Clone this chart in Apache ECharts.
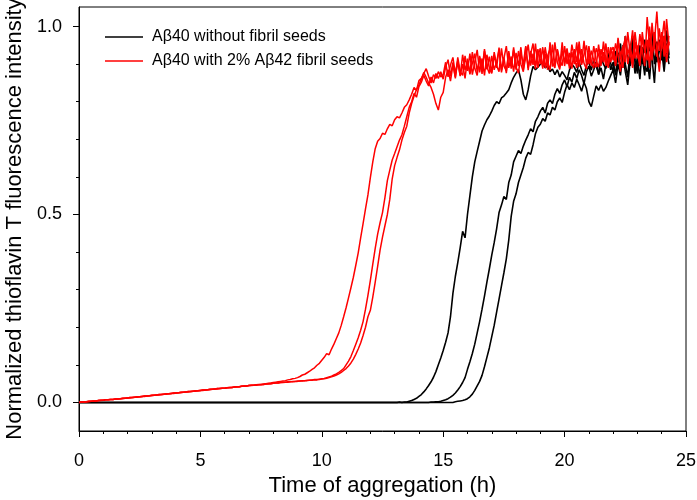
<!DOCTYPE html>
<html><head><meta charset="utf-8">
<script src="https://cdn.jsdelivr.net/npm/echarts@6/dist/echarts.min.js"></script>
<style>html,body{margin:0;padding:0;background:#fff}#c{width:697px;height:500px}</style>
</head><body><div id="c"></div>
<script>
// Sampling: every 0.1 h from 0 h
const timeStart = 0;
const timeStep = 0.1;

const legendNames = ['Aβ40 without fibril seeds', 'Aβ40 with 2% Aβ42 fibril seeds'];
const yTickLabels = [0, 0.5, 1.0];
const yMinorTicks = [0.1, 0.2, 0.3, 0.4, 0.6, 0.7, 0.8, 0.9];

// Aβ40 without seeds (black), three replicates
const unseeded1 = [
0,0,0,0,0,0,0,0,0,0, 0,0,0,0,0,0,0,0,0,0, 0,0,0,0,0,0,0,0,0,0, 0,0,0,0,0,0,0,0,0,0,
0,0,0,0,0,0,0,0,0,0, 0,0,0,0,0,0,0,0,0,0, 0,0,0,0,0,0,0,0,0,0, 0,0,0,0,0,0,0,0,0,0,
0,0,0,0,0,0,0,0,0,0, 0,0,0,0,0,0,0,0,0,0, 0,0,0,0,0,0,0,0,0,0, 0,0,0,0,0,0,0,0,0,0,
0,0,0,0,0,0,0,0,0,0,
0.000,0.000,0.001,0.000,0.001,0.001,0.003,0.005,0.008,0.011,
0.016,0.021,0.028,0.036,0.045,0.055,0.067,0.082,0.100,0.118,
0.138,0.160,0.185,0.228,0.290,0.335,0.372,0.412,0.455,0.438,
0.500,0.550,0.600,0.640,0.668,0.695,0.722,0.738,0.752,0.762,
0.775,0.790,0.800,0.795,0.810,0.815,0.823,0.832,0.850,0.865,
0.876,0.885,0.858,0.820,0.805,0.832,0.868,0.894,0.885,0.892,
0.900,0.903,0.890,0.896,0.880,0.887,0.872,0.885,0.866,0.880,
0.870,0.858,0.884,0.900,0.892,0.878,0.906,0.885,0.870,0.898,
0.905,0.884,0.912,0.895,0.875,0.920,0.900,0.888,0.930,0.902,
0.880,0.935,0.905,0.955,0.890,0.975,0.920,0.895,0.960,0.910,
0.875,0.940,0.900,0.965,0.915,0.860,0.950,0.985,0.905,0.935,
0.960,0.895,0.990,0.925
];
const unseeded2 = [
0,0,0,0,0,0,0,0,0,0, 0,0,0,0,0,0,0,0,0,0, 0,0,0,0,0,0,0,0,0,0, 0,0,0,0,0,0,0,0,0,0,
0,0,0,0,0,0,0,0,0,0, 0,0,0,0,0,0,0,0,0,0, 0,0,0,0,0,0,0,0,0,0, 0,0,0,0,0,0,0,0,0,0,
0,0,0,0,0,0,0,0,0,0, 0,0,0,0,0,0,0,0,0,0, 0,0,0,0,0,0,0,0,0,0, 0,0,0,0,0,0,0,0,0,0,
0,0,0,0,0,0,0,0,0,0, 0,0,0,0,0,0,0,0,0,0,
0.000,0.000,0.000,0.000,0.000,0.001,0.001,0.002,0.002,0.003,
0.005,0.007,0.010,0.014,0.019,0.025,0.033,0.042,0.053,0.066,
0.088,0.108,0.130,0.155,0.185,0.215,0.248,0.283,0.320,0.355,
0.392,0.425,0.462,0.505,0.525,0.548,0.540,0.585,0.605,0.640,
0.655,0.670,0.662,0.682,0.698,0.712,0.728,0.720,0.748,0.760,
0.775,0.785,0.770,0.796,0.805,0.795,0.820,0.835,0.822,0.845,
0.858,0.840,0.865,0.852,0.878,0.862,0.885,0.870,0.848,0.880,
0.895,0.868,0.885,0.905,0.872,0.890,0.860,0.900,0.915,0.885,
0.905,0.870,0.930,0.885,0.950,0.900,0.865,0.940,0.975,0.910,
0.885,0.950,0.920,0.870,0.960,0.935,0.990,0.900,0.945,0.965,
0.910,0.975,0.935,0.900
];
const unseeded3 = [
0,0,0,0,0,0,0,0,0,0, 0,0,0,0,0,0,0,0,0,0, 0,0,0,0,0,0,0,0,0,0, 0,0,0,0,0,0,0,0,0,0,
0,0,0,0,0,0,0,0,0,0, 0,0,0,0,0,0,0,0,0,0, 0,0,0,0,0,0,0,0,0,0, 0,0,0,0,0,0,0,0,0,0,
0,0,0,0,0,0,0,0,0,0, 0,0,0,0,0,0,0,0,0,0, 0,0,0,0,0,0,0,0,0,0, 0,0,0,0,0,0,0,0,0,0,
0,0,0,0,0,0,0,0,0,0, 0,0,0,0,0,0,0,0,0,0, 0,0,0,0,0,0,0,0,0,0,
0.000,0.000,0.000,0.000,0.000,0.002,0.003,0.004,0.005,0.007,
0.010,0.015,0.022,0.032,0.044,0.056,0.072,0.095,0.120,0.145,
0.175,0.205,0.240,0.275,0.310,0.345,0.382,0.432,0.495,0.535,
0.555,0.585,0.605,0.625,0.650,0.665,0.660,0.685,0.715,0.732,
0.740,0.755,0.748,0.770,0.765,0.785,0.778,0.800,0.810,0.798,
0.825,0.845,0.832,0.850,0.838,0.860,0.845,0.828,0.852,0.835,
0.800,0.787,0.815,0.842,0.830,0.845,0.828,0.838,0.855,0.870,
0.885,0.850,0.900,0.870,0.925,0.880,0.845,0.910,0.940,0.875,
0.920,0.860,0.945,0.895,0.880,0.970,0.915,0.850,0.960,0.900,
0.935,0.880,0.955,0.915
];

// Aβ40 with 2% Aβ42 fibril seeds (red), three replicates
const seeded1 = [
0.000,0.001,0.001,0.002,0.003,0.003,0.004,0.004,0.005,0.006,
0.006,0.007,0.007,0.008,0.008,0.009,0.009,0.010,0.011,0.011,
0.012,0.013,0.013,0.014,0.015,0.015,0.016,0.017,0.017,0.018,
0.019,0.019,0.020,0.021,0.021,0.022,0.023,0.023,0.024,0.025,
0.025,0.026,0.027,0.027,0.028,0.029,0.029,0.030,0.031,0.031,
0.032,0.033,0.033,0.034,0.035,0.035,0.036,0.037,0.037,0.038,
0.038,0.039,0.040,0.040,0.041,0.042,0.042,0.043,0.044,0.044,
0.045,0.046,0.046,0.047,0.048,0.048,0.049,0.050,0.051,0.052,
0.053,0.054,0.055,0.056,0.057,0.058,0.060,0.061,0.063,0.064,
0.066,0.069,0.073,0.075,0.079,0.083,0.088,0.092,0.099,0.104,
0.112,0.120,0.130,0.127,0.142,0.155,0.170,0.185,0.205,0.228,
0.252,0.278,0.305,0.333,0.365,0.398,0.438,0.476,0.515,0.552,
0.598,0.640,0.675,0.695,0.702,0.716,0.713,0.728,0.740,0.736,
0.752,0.760,0.757,0.770,0.785,0.792,0.805,0.820,0.838,0.830,
0.856,0.862,0.875,0.888,0.868,0.850,0.872,0.862,0.880,0.866,
0.872,0.905,0.866,0.898,0.918,0.875,0.910,0.868,0.925,0.884,
0.908,0.876,0.932,0.889,0.870,0.922,0.884,0.940,0.893,0.875,
0.922,0.885,0.906,0.938,0.878,0.915,0.948,0.890,0.920,0.880,
0.930,0.895,0.945,0.884,0.918,0.952,0.896,0.928,0.887,0.940,
0.900,0.945,0.890,0.922,0.940,0.893,0.958,0.905,0.886,0.936,
0.905,0.942,0.895,0.952,0.918,0.890,0.945,0.904,0.962,0.898,
0.930,0.896,0.948,0.910,0.892,0.940,0.905,0.955,0.898,0.935,
0.945,0.900,0.960,0.918,0.890,0.975,0.925,0.952,0.905,0.985,
0.930,0.895,0.965,0.940,0.910,1.000,0.925,0.960,1.040,0.935,
0.985,0.920,1.020,0.950
];
const seeded2 = [
0.000,0.001,0.001,0.002,0.003,0.003,0.004,0.004,0.005,0.006,
0.006,0.007,0.007,0.008,0.008,0.009,0.009,0.010,0.011,0.011,
0.012,0.013,0.013,0.014,0.015,0.015,0.016,0.017,0.017,0.018,
0.019,0.019,0.020,0.021,0.021,0.022,0.023,0.023,0.024,0.025,
0.025,0.026,0.027,0.027,0.028,0.029,0.029,0.030,0.031,0.031,
0.032,0.033,0.033,0.034,0.035,0.035,0.036,0.037,0.037,0.038,
0.038,0.039,0.040,0.040,0.041,0.042,0.042,0.043,0.044,0.044,
0.045,0.046,0.046,0.047,0.047,0.048,0.048,0.049,0.050,0.050,
0.051,0.052,0.052,0.053,0.054,0.054,0.055,0.055,0.056,0.056,
0.057,0.057,0.058,0.058,0.059,0.059,0.060,0.061,0.061,0.062,
0.063,0.064,0.066,0.068,0.070,0.073,0.076,0.080,0.085,0.090,
0.100,0.110,0.122,0.138,0.155,0.172,0.192,0.215,0.248,0.285,
0.325,0.368,0.410,0.448,0.478,0.505,0.545,0.590,0.618,0.645,
0.662,0.680,0.698,0.712,0.735,0.760,0.785,0.800,0.822,0.812,
0.840,0.852,0.870,0.855,0.842,0.866,0.850,0.875,0.862,0.880,
0.860,0.892,0.912,0.868,0.905,0.862,0.918,0.880,0.870,0.922,
0.882,0.928,0.872,0.905,0.938,0.878,0.915,0.870,0.925,0.890,
0.875,0.932,0.896,0.880,0.942,0.895,0.882,0.935,0.888,0.945,
0.892,0.876,0.928,0.900,0.948,0.884,0.935,0.898,0.955,0.890,
0.932,0.888,0.945,0.905,0.884,0.952,0.898,0.938,0.892,0.958,
0.895,0.938,0.888,0.932,0.900,0.958,0.893,0.940,0.902,0.887,
0.948,0.905,0.890,0.942,0.925,0.895,0.960,0.910,0.890,0.945,
0.910,0.955,0.925,0.880,0.945,0.968,0.900,0.935,0.990,0.915,
0.950,0.905,0.985,0.930,0.965,0.890,1.010,0.945,0.920,0.995,
0.940,0.975,0.905,0.960
];
const seeded3 = [
0.000,0.001,0.001,0.002,0.002,0.003,0.004,0.004,0.005,0.005,
0.006,0.007,0.007,0.008,0.008,0.009,0.009,0.010,0.010,0.011,
0.012,0.012,0.013,0.014,0.014,0.015,0.016,0.016,0.017,0.018,
0.018,0.019,0.020,0.020,0.021,0.022,0.022,0.023,0.024,0.024,
0.025,0.026,0.026,0.027,0.028,0.028,0.029,0.030,0.030,0.031,
0.032,0.032,0.033,0.034,0.034,0.035,0.036,0.036,0.037,0.038,
0.038,0.039,0.039,0.040,0.041,0.041,0.042,0.043,0.043,0.044,
0.045,0.045,0.046,0.046,0.047,0.047,0.048,0.049,0.049,0.050,
0.051,0.052,0.052,0.053,0.053,0.054,0.054,0.055,0.055,0.056,
0.056,0.057,0.057,0.058,0.058,0.059,0.059,0.060,0.060,0.061,
0.062,0.063,0.064,0.066,0.068,0.070,0.073,0.076,0.080,0.085,
0.090,0.097,0.105,0.115,0.128,0.142,0.158,0.178,0.200,0.228,
0.245,0.280,0.320,0.362,0.405,0.440,0.470,0.500,0.540,0.595,
0.630,0.652,0.672,0.698,0.718,0.735,0.770,0.795,0.815,0.832,
0.845,0.860,0.878,0.865,0.850,0.838,0.820,0.795,0.778,0.812,
0.825,0.865,0.885,0.855,0.898,0.866,0.906,0.870,0.900,0.862,
0.915,0.873,0.902,0.928,0.880,0.918,0.874,0.935,0.886,0.920,
0.878,0.925,0.890,0.944,0.884,0.918,0.876,0.930,0.896,0.938,
0.885,0.935,0.900,0.880,0.946,0.890,0.926,0.955,0.897,0.922,
0.942,0.893,0.928,0.885,0.958,0.905,0.890,0.940,0.910,0.896,
0.948,0.900,0.930,0.888,0.940,0.906,0.960,0.898,0.925,0.950,
0.900,0.936,0.910,0.892,0.952,0.902,0.932,0.895,0.945,0.905,
0.935,0.895,0.970,0.920,0.948,0.905,0.985,0.930,0.890,0.960,
0.915,0.980,0.935,0.895,1.025,0.950,0.910,0.985,0.940,0.880,
0.960,1.015,0.930,0.975
];

function toPairs(vals) {
  return vals.map((v, i) => [Math.round((timeStart + i * timeStep) * 100) / 100, v]);
}

const FONT = "'Liberation Sans', Arial, sans-serif";
const chart = echarts.init(document.getElementById('c'), null, {renderer: 'canvas'});

function lineSeries(name, vals, color, width) {
  return {
    type: 'line', name: name, data: toPairs(vals),
    symbol: 'none', showSymbol: false, smooth: false,
    lineStyle: {color: color, width: width},
    itemStyle: {color: color},
    animation: false, z: 2
  };
}

chart.setOption({
  animation: false,
  backgroundColor: '#fff',
  grid: {left: 79, right: 11, top: 7, bottom: 69, show: true, borderColor: '#000', borderWidth: 1,
    backgroundColor: 'transparent', containLabel: false, outerBoundsMode: 'none'},
  legend: {
    orient: 'vertical', left: 100, top: 24, itemGap: 8,
    data: legendNames,
    icon: 'rect', itemWidth: 38, itemHeight: 1.5,
    textStyle: {fontFamily: FONT, fontSize: 16, color: '#000', padding: [0, 0, 0, 4]}
  },
  xAxis: {
    type: 'value', min: 0, max: 25, interval: 5,
    name: 'Time of aggregation (h)', nameLocation: 'middle', nameGap: 44,
    nameTextStyle: {fontFamily: FONT, fontSize: 22, color: '#000'},
    axisLine: {show: true, onZero: false, lineStyle: {color: '#000', width: 1}},
    axisTick: {show: true, inside: false, length: 6, lineStyle: {color: '#000'}},
    minorTick: {show: true, splitNumber: 5, length: 3, lineStyle: {color: '#000'}},
    axisLabel: {fontFamily: FONT, fontSize: 18, color: '#000', margin: 21},
    splitLine: {show: false}, minorSplitLine: {show: false}
  },
  yAxis: [{
    type: 'value', min: -0.076, max: 1.052,
    name: 'Normalized thioflavin T fluorescence intensity', nameLocation: 'middle', nameGap: 52,
    nameTextStyle: {fontFamily: FONT, fontSize: 22, color: '#000'},
    axisLine: {show: true, onZero: false, lineStyle: {color: '#000', width: 1}},
    axisTick: {show: true, inside: false, length: 6, lineStyle: {color: '#000'}, customValues: yTickLabels},
    axisLabel: {fontFamily: FONT, fontSize: 18, color: '#000', margin: 17, customValues: yTickLabels,
      formatter: v => v.toFixed(1)},
    splitLine: {show: false}
  }, {
    type: 'value', min: -0.076, max: 1.052, position: 'left', offset: 0,
    axisLine: {show: false, onZero: false},
    axisTick: {show: true, inside: false, length: 3, lineStyle: {color: '#000'}, customValues: yMinorTicks},
    axisLabel: {show: false},
    splitLine: {show: false}
  }],
  series: [
    lineSeries(legendNames[0], unseeded1, '#000000', 1.6),
    lineSeries(legendNames[0], unseeded2, '#000000', 1.6),
    lineSeries(legendNames[0], unseeded3, '#000000', 1.6),
    lineSeries(legendNames[1], seeded1, '#ff0000', 1.5),
    lineSeries(legendNames[1], seeded2, '#ff0000', 1.5),
    lineSeries(legendNames[1], seeded3, '#ff0000', 1.5)
  ]
});
</script>
</body></html>
